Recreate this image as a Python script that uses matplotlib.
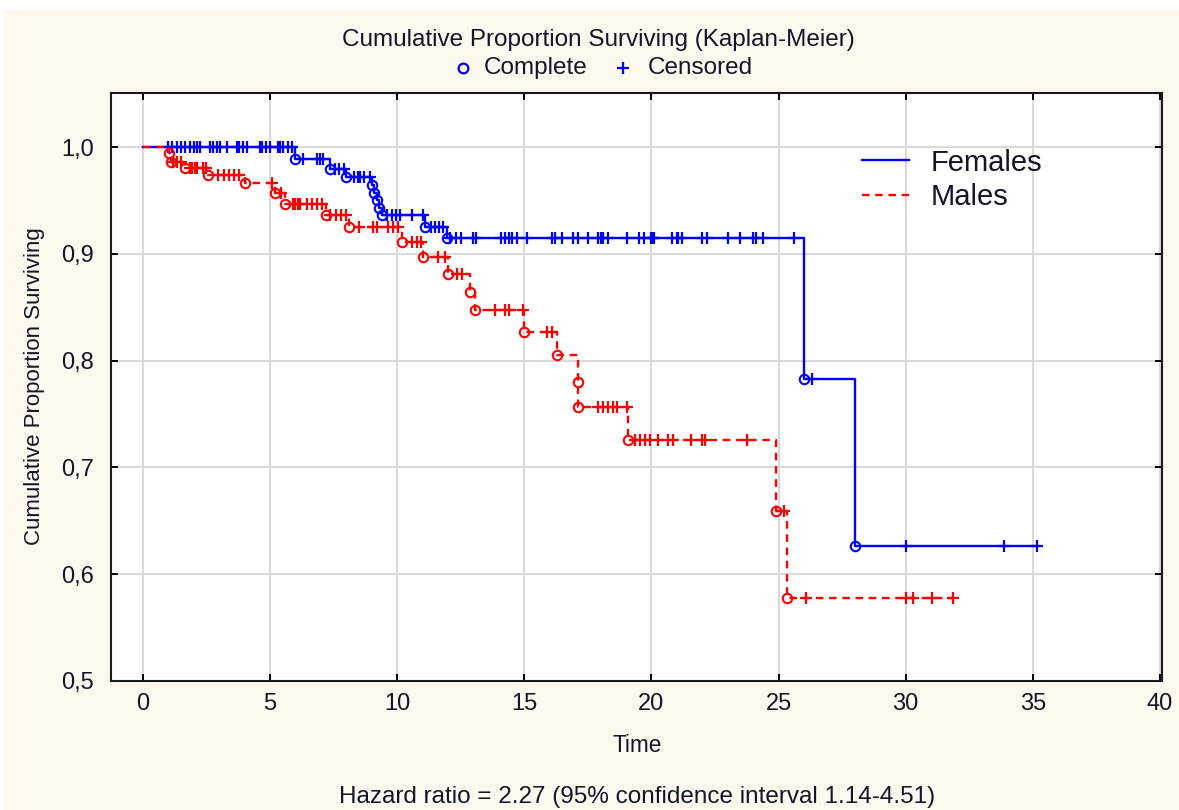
import numpy as np
import matplotlib
matplotlib.use("Agg")
import matplotlib.pyplot as plt
from matplotlib.lines import Line2D
from matplotlib.patches import Rectangle
from matplotlib.ticker import FuncFormatter

# ---------------- data ----------------
female_event_t = [6.0, 7.35, 8.0, 9.0, 9.1, 9.2, 9.3, 9.4, 11.1, 11.95, 26.0, 28.0]
female_event_s = [0.989, 0.979, 0.972, 0.964, 0.957, 0.950, 0.943, 0.936, 0.925, 0.915, 0.783, 0.626]
female_censor_t = [1.0, 1.15, 1.35, 1.5, 1.65, 1.85, 2.0, 2.15, 2.25, 2.65, 2.75, 2.9, 3.05, 3.3,
                   3.7, 3.8, 3.95, 4.1, 4.6, 4.7, 4.85, 5.0, 5.3, 5.4, 5.5, 5.7, 5.85,
                   6.3, 6.85, 6.95, 7.1, 7.55, 7.7, 7.9, 8.3, 8.45, 8.55, 8.7, 8.95,
                   9.6, 9.8, 9.95, 10.1, 10.6, 11.0, 11.35, 11.5, 11.65, 11.8,
                   12.1, 12.3, 12.5, 13.0, 13.1, 14.1, 14.25, 14.4, 14.5, 14.7, 15.1,
                   16.1, 16.2, 16.5, 16.9, 17.1, 17.5, 17.9, 18.0, 18.1, 18.3, 19.05,
                   19.5, 19.7, 20.0, 20.05, 20.1, 20.8, 21.0, 21.05, 21.2, 22.0, 22.2,
                   23.0, 23.5, 24.0, 24.1, 24.4, 25.6, 26.3, 30.0, 33.85, 35.15]

male_event_t = [1.05, 1.1, 1.65, 2.55, 4.0, 5.2, 5.6, 7.2, 8.1, 10.2, 11.0, 12.0, 12.85,
                13.05, 15.0, 16.3, 17.1, 17.12, 19.1, 24.9, 25.35]
male_event_s = [0.994, 0.986, 0.980, 0.974, 0.966, 0.957, 0.947, 0.936, 0.925, 0.911, 0.897,
                0.881, 0.864, 0.847, 0.827, 0.805, 0.780, 0.757, 0.726, 0.659, 0.578]
male_censor_t = [1.2, 1.35, 1.5, 1.85, 1.95, 2.05, 2.15, 2.35, 2.5, 2.95, 3.2, 3.4, 3.6, 3.8,
                 5.1, 5.45, 5.9, 6.0, 6.1, 6.2, 6.45, 6.65, 6.85, 7.05, 7.35, 7.6, 7.8, 8.0,
                 8.5, 9.05, 9.2, 9.65, 9.85, 10.05, 10.6, 10.8, 10.95, 11.6, 11.9, 12.35, 12.55,
                 13.85, 14.25, 14.4, 14.95, 15.9, 16.1, 17.9, 18.1, 18.3, 18.5, 18.65, 19.05,
                 19.35, 19.55, 19.75, 19.95, 20.25, 20.65, 20.85, 21.55, 22.0, 22.1, 23.75,
                 25.2, 26.1, 30.0, 30.3, 31.05, 31.85]

x_ticks = [0, 5, 10, 15, 20, 25, 30, 35, 40]
y_ticks = [0.5, 0.6, 0.7, 0.8, 0.9, 1.0]

title = "Cumulative Proportion Surviving (Kaplan-Meier)"
footnote = "Hazard ratio = 2.27 (95% confidence interval 1.14-4.51)"

# ---------------- styling ----------------
BG = "#fef9ee"
TXT = "#14142a"
BLUE = "#0000ff"
RED = "#ff0000"
FONT = ["Liberation Sans", "DejaVu Sans"]

W, H = 1179, 810
fig = plt.figure(figsize=(W / 100, H / 100), dpi=100, facecolor="white")
fig.patches.append(Rectangle((4 / W, 0), 1, 1 - 10 / H, transform=fig.transFigure,
                             facecolor=BG, edgecolor="none", zorder=-10))

ax = fig.add_axes([111 / W, 1 - 681 / H, (1162 - 111) / W, (681 - 93) / H])
ax.set_facecolor("white")


def surv_at(times, ev_t, ev_s):
    ev_t = np.asarray(ev_t)
    ev_s = np.concatenate([[1.0], np.asarray(ev_s)])
    idx = np.searchsorted(ev_t, np.asarray(times), side="right")
    return ev_s[idx]


DASH = (0, (3.2, 2.4))


def draw(ev_t, ev_s, cens_t, color, ls, z):
    end = max(max(cens_t), max(ev_t))
    xs = np.concatenate([[0.0], ev_t, [end]])
    ys = np.concatenate([[1.0], ev_s, [ev_s[-1]]])
    ax.step(xs, ys, where="post", color=color, lw=1.7, ls=ls, zorder=z)
    ax.plot(ev_t, ev_s, ls="none", marker="o", ms=6.8, mfc="none", mec=color, mew=1.5, zorder=z + 1)
    ax.plot(cens_t, surv_at(cens_t, ev_t, ev_s), ls="none", marker="+", ms=9, mec=color,
            mew=1.6, zorder=z + 1)


draw(female_event_t, female_event_s, female_censor_t, BLUE, "-", 3)
draw(male_event_t, male_event_s, male_censor_t, RED, DASH, 5)

ax.set_xlim(-1.25, 40.08)
ax.set_ylim(0.5, 1.0506)
ax.set_xticks(x_ticks)
ax.set_yticks(y_ticks)
ax.yaxis.set_major_formatter(FuncFormatter(lambda v, p: f"{v:.1f}".replace(".", ",")))
ax.grid(True, color="#dadada", lw=1.5, zorder=0)
ax.set_axisbelow(True)
ax.tick_params(direction="in", length=5, width=1.4, top=True, right=True,
               labelsize=17, labelcolor=TXT)
ax.tick_params(axis="x", pad=9)
ax.tick_params(axis="y", pad=12)
for lab in ax.get_xticklabels() + ax.get_yticklabels():
    lab.set_family(FONT)
for s in ax.spines.values():
    s.set_linewidth(1.5)
    s.set_color("#1a1a1a")

# legend
handles = [Line2D([], [], color=BLUE, lw=1.7, ls="-"),
           Line2D([], [], color=RED, lw=1.7, ls=DASH)]
ax.legend(handles, ["Females", "Males"], loc="upper left", bbox_to_anchor=(0.69, 0.95),
          frameon=False, prop={"family": FONT, "size": 21}, handlelength=1.6,
          handletextpad=0.75, labelspacing=0.22, labelcolor=TXT)

# titles and labels
fig.text(598 / W, 1 - 40 / H, title, ha="center", va="center", fontsize=17.5,
         family=FONT, color=TXT)
fig.add_artist(Line2D([463 / W], [1 - 68 / H], transform=fig.transFigure, marker="o",
                      ms=7, mfc="none", mec=BLUE, mew=1.6, ls="none"))
fig.add_artist(Line2D([623 / W], [1 - 68 / H], transform=fig.transFigure, marker="+",
                      ms=9, mec=BLUE, mew=1.6, ls="none"))
fig.text(484 / W, 1 - 68 / H, "Complete", ha="left", va="center", fontsize=17.5,
         family=FONT, color=TXT)
fig.text(648 / W, 1 - 68 / H, "Censored", ha="left", va="center", fontsize=17.5,
         family=FONT, color=TXT)
fig.text(637 / W, 1 - 745 / H, "Time", ha="center", va="center", fontsize=16.3,
         family=FONT, color=TXT)
fig.text(35 / W, 1 - 386 / H, "Cumulative Proportion Surviving", ha="center", va="center",
         rotation=90, fontsize=16, family=FONT, color=TXT)
fig.text(637 / W, 1 - 797 / H, footnote, ha="center", va="center", fontsize=17.5,
         family=FONT, color=TXT)

fig.savefig("out.png", dpi=100, facecolor=fig.get_facecolor())
